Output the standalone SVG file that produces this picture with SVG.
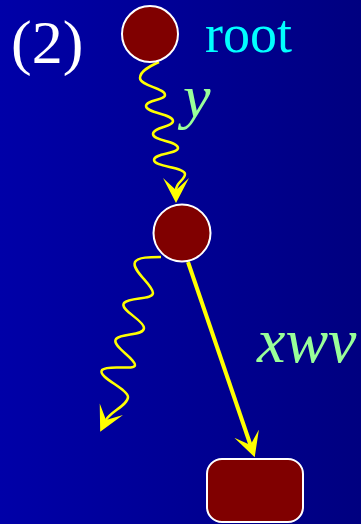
<svg xmlns="http://www.w3.org/2000/svg" width="361" height="524" viewBox="0 0 361 524">
<defs>
<linearGradient id="bg" x1="0" y1="0" x2="1" y2="0">
<stop offset="0" stop-color="#0000A8"/>
<stop offset="1" stop-color="#000080"/>
</linearGradient>
<marker id="ah" markerUnits="userSpaceOnUse" viewBox="0 -14 26 28" markerWidth="26" markerHeight="28" refX="12" refY="0" orient="auto">
<path d="M0,-13 L25,0 L0,13 L12,0 Z" fill="#FFFF00"/>
</marker>
</defs>
<style>
.node{fill:#800000;stroke:#FFFFFF;stroke-width:2}
.wave{fill:none;stroke:#FFFF00;stroke-width:2.5;marker-end:url(#ah)}
.edge{fill:none;stroke:#FFFF00;stroke-width:4;marker-end:url(#ah)}
.lbl{font-family:"Liberation Serif","Times New Roman",serif}
.it{font-family:"Liberation Serif","Times New Roman",serif;font-style:italic;fill:#99FF99}
</style>
<rect x="0" y="0" width="361" height="524" fill="url(#bg)"/>
<text class="lbl" x="11" y="63" font-size="62" fill="#FFFFFF">(2)</text>
<g id="connectors">
<path class="wave" d="M159,62 C150,66 140,71 140,78 C140,86 165,88 165,95 C165,100 146,100 146,106 C146,113 173,114 173,121 C173,127 153,127 153,134 C153,141 178,141 178,148 C178,154 154,153 154,160 C154,167 185,167 185,174 C185,180 176,182 176,190"/>
<path class="wave" d="M161,257 C150,257 138,257 135,262 C131,270 153,285 153,293 C153,300 130,297 124,303 C119,310 144,320 144,328 C144,336 122,333 116,339 C111,346 135,358 135,365 C135,371 108,364 102,370 C97,377 128,389 128,397 C128,405 110,412 106,420"/>
<path class="edge" d="M188,262 L250.5,445"/>
</g>
<g id="root">
<circle class="node" cx="150" cy="34" r="28"/>
<text class="lbl" x="205" y="52" font-size="54" fill="#00FFFF">root</text>
</g>
<g id="mid">
<circle class="node" cx="182" cy="233" r="28.5"/>
</g>
<g id="leaf">
<rect class="node" x="207" y="459" width="96" height="63" rx="15"/>
</g>
<text class="it" x="183" y="117" font-size="62">y</text>
<text class="it" x="257" y="362" font-size="64">xwv</text>
</svg>
